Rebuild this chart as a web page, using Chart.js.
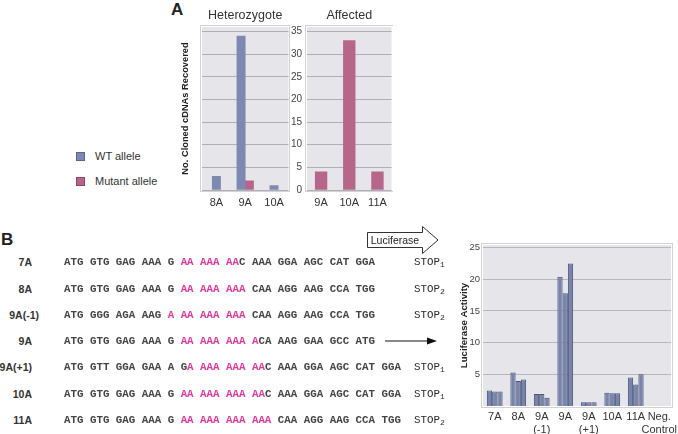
<!DOCTYPE html>
<html>
<head>
<meta charset="utf-8">
<script src="https://cdn.jsdelivr.net/npm/chart.js@4.4.1/dist/chart.umd.min.js"></script>
<style>
  html, body { margin:0; padding:0; background:#fff; }
  body { width:678px; height:434px; position:relative; overflow:hidden; font-family:"Liberation Sans", Arial, sans-serif; color:#333; }
  canvas { position:absolute; }
  .abs { position:absolute; white-space:pre; }
  .panel { font-weight:bold; font-size:17px; color:#222; }
  .rowlab { font-weight:bold; font-size:10.5px; color:#333; text-align:right; width:60px; line-height:12px; }
  .seq { font-family:"Liberation Mono", "Courier New", monospace; font-size:10.8px; font-weight:bold; color:#444; line-height:12px; }
  .pink { color:#e23a9c; }
  .stop { font-family:"Liberation Mono", "Courier New", monospace; font-size:10.8px; color:#2a2a2a; line-height:12px; }
  .stop sub { font-size:8px; vertical-align:-2px; line-height:0; }
  .leg { font-size:11px; color:#333; line-height:12px; }
  .sw { position:absolute; width:7px; height:7px; }
</style>
</head>
<body>
<div class="abs panel" style="left:171px;top:0px;">A</div>
<div class="abs panel" style="left:1px;top:230px;">B</div>

<div class="sw" style="left:76px;top:152px;background:#7d89b0;border:1px solid #5b6690;"></div>
<div class="abs leg" style="left:95px;top:150px;">WT allele</div>
<div class="sw" style="left:76px;top:177px;background:#b5668a;border:1px solid #8c4768;"></div>
<div class="abs leg" style="left:95px;top:175px;">Mutant allele</div>

<canvas id="het" width="120" height="215" style="left:170px;top:0px;"></canvas>
<canvas id="aff" width="113" height="215" style="left:280px;top:0px;"></canvas>
<canvas id="luc" width="252" height="209" style="left:440px;top:225px;"></canvas>

<svg width="80" height="34" style="position:absolute;left:362px;top:223px;" xmlns="http://www.w3.org/2000/svg">
  <path d="M5.5 9.5 H60.5 V3.5 L76 17 L60.5 30.5 V24.5 H5.5 Z" fill="#fff" stroke="#333" stroke-width="1"/>
  <text x="33" y="21" text-anchor="middle" font-family="Liberation Sans, Arial, sans-serif" font-size="10.5" fill="#222">Luciferase</text>
</svg>
<svg width="60" height="12" style="position:absolute;left:383px;top:335px;" xmlns="http://www.w3.org/2000/svg">
  <line x1="2" y1="6" x2="46" y2="6" stroke="#111" stroke-width="1.2"/>
  <path d="M44 2.5 L54 6 L44 9.5 Z" fill="#111"/>
</svg>

<div id="rows"></div>

<script>
// ---------- Panel A data ----------
const hetCategories = ['8A', '9A', '10A'];
const hetWT = [3, 34, 1];
const hetMutant = [null, 2, null];
const affCategories = ['9A', '10A', '11A'];
const affMutant = [4, 33, 4];
const countTicks = [0, 5, 10, 15, 20, 25, 30, 35];

// ---------- Panel B data ----------
const lucCategories = [['7A'], ['8A'], ['9A', '(-1)'], ['9A'], ['9A', '(+1)'], ['10A'], ['11A'], ['Neg.', 'Control']];
const lucRep1 = [2.45, 5.3, 1.9, 20.4, 0.6, 2.1, 4.5, 0];
const lucRep2 = [2.3, 3.95, 1.9, 17.8, 0.6, 2.0, 3.4, 0];
const lucRep3 = [2.3, 4.2, 1.3, 22.5, 0.6, 2.0, 5.0, 0];
const lucTicks = [5, 10, 15, 20, 25];

const constructNames = ['7A', '8A', '9A(-1)', '9A', '9A(+1)', '10A', '11A'];
const seqBefore = ['ATG GTG GAG AAA G ', 'ATG GTG GAG AAA G ', 'ATG GGG AGA AAG ', 'ATG GTG GAG AAA G ', 'ATG GTT GGA GAA A G', 'ATG GTG GAG AAA G ', 'ATG GTG GAG AAA G '];
const seqRepeat = ['AA AAA AA', 'AA AAA AAA', 'A AA AAA AAA', 'AA AAA AAA A', 'A AAA AAA AA', 'AA AAA AAA AA', 'AA AAA AAA AAA'];
const seqAfter = ['C AAA GGA AGC CAT GGA', ' CAA AGG AAG CCA TGG', ' CAA AGG AAG CCA TGG', 'CA AAG GAA GCC ATG', 'C AAA GGA AGC CAT GGA', 'C AAA GGA AGC CAT GGA', ' CAA AGG AAG CCA TGG'];
const stopIndex = ['1', '2', '2', null, '1', '1', '2'];

// ---------- layout (style only) ----------
const rowY = [262, 288.5, 314.5, 341, 367, 393.5, 420];
const labelRight = [32, 32, 39, 32, 32, 32, 32];

const rowsEl = document.getElementById('rows');
constructNames.forEach((name, i) => {
  const y = rowY[i] - 6;
  const lab = document.createElement('div');
  lab.className = 'abs rowlab';
  lab.style.left = (labelRight[i] - 60) + 'px';
  lab.style.top = y + 'px';
  lab.textContent = name;
  rowsEl.appendChild(lab);

  const seq = document.createElement('div');
  seq.className = 'abs seq';
  seq.style.left = '64px';
  seq.style.top = y + 'px';
  const a = document.createElement('span'); a.textContent = seqBefore[i];
  const b = document.createElement('span'); b.className = 'pink'; b.textContent = seqRepeat[i];
  const c = document.createElement('span'); c.textContent = seqAfter[i];
  seq.appendChild(a); seq.appendChild(b); seq.appendChild(c);
  rowsEl.appendChild(seq);

  if (stopIndex[i]) {
    const st = document.createElement('div');
    st.className = 'abs stop';
    st.style.left = '414px';
    st.style.top = y + 'px';
    st.innerHTML = 'STOP<sub>' + stopIndex[i] + '</sub>';
    rowsEl.appendChild(st);
  }
});

// ---------- plugins ----------
const panelBg = {
  id: 'panelBg',
  beforeDraw(chart) {
    const { ctx, chartArea: a } = chart;
    ctx.save();
    ctx.fillStyle = '#e6e6ea';
    ctx.fillRect(a.left, a.top, a.width, a.height);
    ctx.strokeStyle = '#d2d2d5';
    ctx.lineWidth = 1;
    ctx.strokeRect(Math.round(a.left) - 1.5, Math.round(a.top) - 1.5, Math.round(a.width) + 3, Math.round(a.height) + 3);
    ctx.restore();
  }
};
const panelTitle = {
  id: 'panelTitle',
  afterDraw(chart, args, opts) {
    if (!opts.text) return;
    const { ctx, chartArea: a } = chart;
    ctx.save();
    ctx.font = '12.5px "Liberation Sans", Arial, sans-serif';
    ctx.fillStyle = '#333';
    ctx.textAlign = 'center';
    ctx.textBaseline = 'middle';
    ctx.fillText(opts.text, (a.left + a.right) / 2, opts.y);
    ctx.restore();
  }
};

Chart.defaults.font.family = '"Liberation Sans", Arial, sans-serif';
Chart.defaults.color = '#333';

const filterTicks = (list) => (scale) => {
  scale.ticks = list.map(v => ({ value: v }));
};

function countChart(id, cats, datasets, opts) {
  return new Chart(document.getElementById(id), {
    type: 'bar',
    data: { labels: cats, datasets },
    plugins: [panelBg, panelTitle],
    options: {
      responsive: false,
      animation: false,
      devicePixelRatio: 1,
      layout: { padding: { top: 27, right: opts.padRight, left: 0, bottom: 0 } },
      plugins: { legend: { display: false }, tooltip: { enabled: false }, panelTitle: { text: opts.title, y: 16 } },
      datasets: { bar: { skipNull: true } },
      scales: {
        x: {
          grid: { display: false, drawTicks: false },
          border: { display: false },
          ticks: { font: { size: 11 }, padding: 6, color: '#333' },
          afterFit: (s) => { s.height = 25; }
        },
        y: {
          min: 0, max: 36,
          afterBuildTicks: filterTicks(countTicks),
          grid: { color: '#aeaeb3', drawTicks: false, lineWidth: 1 },
          border: { display: false },
          ticks: { display: opts.showTicks, font: { size: 10 }, padding: 5, color: '#444' },
          title: opts.yTitle ? { display: true, text: opts.yTitle, font: { size: 9.3, weight: 'bold' }, color: '#222', padding: { top: 10, bottom: 0 } } : { display: false },
          afterFit: (s) => { s.width = opts.yWidth; }
        }
      }
    }
  });
}

countChart('het', hetCategories, [
  { label: 'WT allele', data: hetWT, backgroundColor: '#7d89b0', barThickness: 8.3 },
  { label: 'Mutant allele', data: hetMutant, backgroundColor: '#b5668a', barThickness: 8.3 }
], { title: 'Heterozygote', yTitle: 'No. Cloned cDNAs Recovered', showTicks: false, yWidth: 32, padRight: 1 });

countChart('aff', affCategories, [
  { label: 'Mutant allele', data: affMutant, backgroundColor: '#b5668a', barThickness: 11.7 }
], { title: 'Affected', yTitle: null, showTicks: true, yWidth: 27, padRight: 1 });

const lucStyle = { backgroundColor: '#7884a9', borderColor: '#48547c', borderWidth: 1 };
new Chart(document.getElementById('luc'), {
  type: 'bar',
  data: {
    labels: lucCategories,
    datasets: [
      Object.assign({ label: 'Rep 1', data: lucRep1 }, lucStyle),
      Object.assign({ label: 'Rep 2', data: lucRep2 }, lucStyle),
      Object.assign({ label: 'Rep 3', data: lucRep3 }, lucStyle)
    ]
  },
  plugins: [panelBg],
  options: {
    responsive: false,
    animation: false,
    devicePixelRatio: 1,
    layout: { padding: { top: 20, right: 21, left: 0, bottom: 0 } },
    plugins: { legend: { display: false }, tooltip: { enabled: false } },
    datasets: { bar: { categoryPercentage: 0.67, barPercentage: 1 } },
    scales: {
      x: {
        grid: { display: false, drawTicks: false },
        border: { display: false },
        ticks: { font: { size: 11, lineHeight: 1.15 }, padding: 5, color: '#333', maxRotation: 0, autoSkip: false },
        afterFit: (s) => { s.height = 28; }
      },
      y: {
        min: 0, max: 25.4,
        afterBuildTicks: filterTicks(lucTicks),
        grid: { color: '#b8b8bc', drawTicks: false },
        border: { display: false },
        ticks: { font: { size: 9.5 }, padding: 3, color: '#444' },
        title: { display: true, text: 'Luciferase Activity', font: { size: 9.6, weight: 'bold' }, color: '#222', padding: { top: 18.3, bottom: 0 } },
        afterFit: (s) => { s.width = 43; }
      }
    }
  }
});
</script>
</body>
</html>
